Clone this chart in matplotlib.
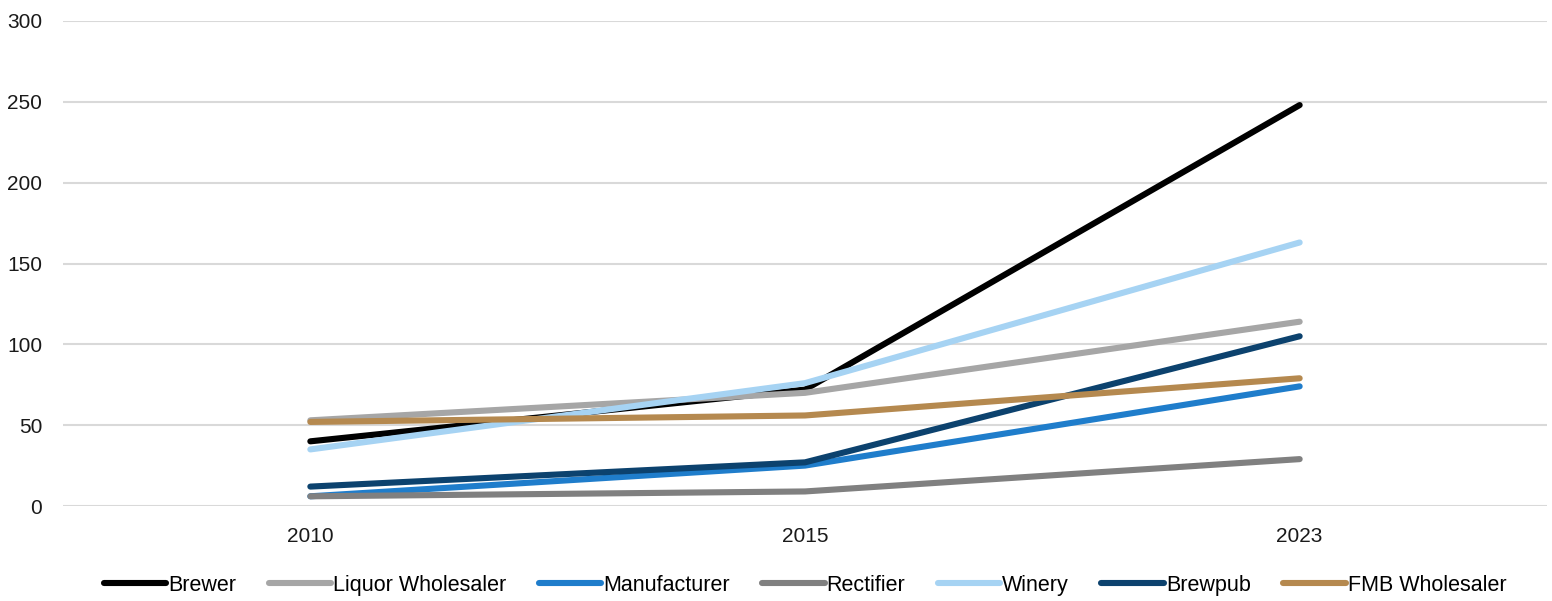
import matplotlib
matplotlib.use("Agg")
import matplotlib.pyplot as plt

years = ["2010", "2015", "2023"]

brewer = [40, 72, 248]
liquor_wholesaler = [53, 70, 114]
manufacturer = [6, 25, 74]
rectifier = [6, 9, 29]
winery = [35, 76, 163]
brewpub = [12, 27, 105]
fmb_wholesaler = [52, 56, 79]

series = [
    ("Brewer", brewer, "#000000"),
    ("Liquor Wholesaler", liquor_wholesaler, "#A6A6A6"),
    ("Manufacturer", manufacturer, "#1F7DCB"),
    ("Rectifier", rectifier, "#808080"),
    ("Winery", winery, "#A6D3F3"),
    ("Brewpub", brewpub, "#0C426E"),
    ("FMB Wholesaler", fmb_wholesaler, "#B5894F"),
]

plt.rcParams["font.family"] = ["Liberation Sans", "DejaVu Sans"]

fig = plt.figure(figsize=(15.52, 6.01), dpi=100)
ax = fig.add_axes([63 / 1552, 1 - 506 / 601, (1547 - 63) / 1552, (506 - 21) / 601])

x = range(len(years))
for name, vals, color in series:
    ax.plot(x, vals, color=color, lw=4.4, solid_capstyle="round", label=name)

ax.set_xlim(-0.5, 2.5)
ax.set_ylim(0, 300)
ax.set_xticks(list(x))
ax.set_xticklabels(years)
ax.set_yticks(range(0, 301, 50))
ax.tick_params(length=0, labelsize=15, colors="#1a1a1a")
ax.tick_params(axis="y", pad=15)
ax.tick_params(axis="x", pad=15)
ax.grid(axis="y", color="#D9D9D9", lw=1.5)
ax.set_axisbelow(True)
for s in ax.spines.values():
    s.set_visible(False)

ax.legend(loc="lower center", bbox_to_anchor=(0.5, -0.225), ncol=7, frameon=False,
          fontsize=15.5, handlelength=2.9, handletextpad=0.1, columnspacing=1.5)

fig.savefig("out.png", dpi=100)
